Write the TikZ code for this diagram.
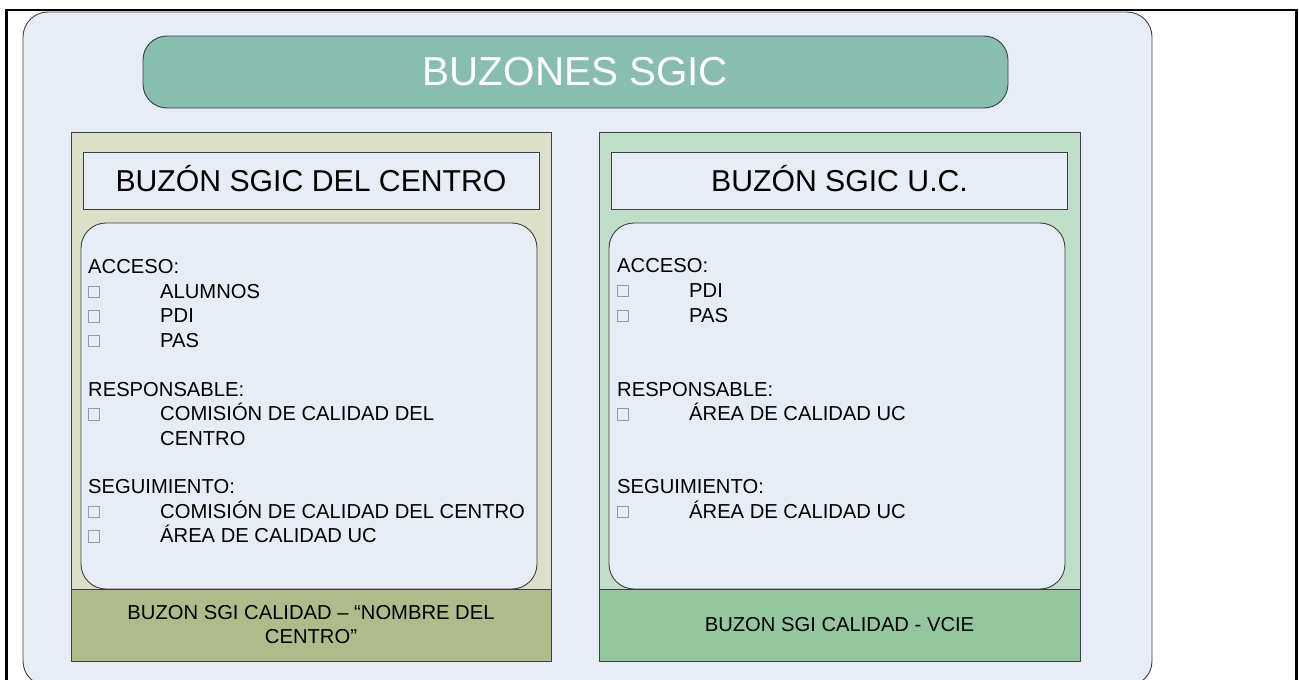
\documentclass[tikz,border=0pt]{standalone}
\usepackage{fontspec}
\setmainfont{Liberation Sans}

\definecolor{bgblue}{HTML}{E6EDF7}
\definecolor{titlegreen}{HTML}{88BDAF}
\definecolor{olivelight}{HTML}{DCE0C8}
\definecolor{olivedark}{HTML}{AFBB8B}
\definecolor{mintlight}{HTML}{C0DDC7}
\definecolor{mintdark}{HTML}{95C69F}
\definecolor{bxgray}{HTML}{9A9A9A}

% grey square in front of each entry
\newcommand\bx{\textcolor{bxgray}{\raisebox{1pt}{\setlength\fboxrule{0.9pt}\setlength\fboxsep{0pt}\fbox{\rule{0pt}{10.5pt}\rule{9.5pt}{0pt}}}}}
\newcommand\itm[1]{\makebox[72pt][l]{\bx}#1}

\begin{document}
\begin{tikzpicture}[x=1pt,y=-1pt,
    edge/.style={draw=black!75,line width=0.9pt},
    titlebox/.style={edge,fill=titlegreen,rounded corners=24pt,minimum width=865pt,minimum height=72pt,
        text=white,font=\fontsize{40.4}{48}\selectfont},
    headbox/.style={edge,fill=bgblue,minimum width=456pt,minimum height=57pt,inner sep=0pt,
        text height=21.5pt,text depth=0pt,font=\fontsize{30.2}{36}\selectfont},
    footbox/.style={edge,minimum width=480pt,minimum height=72pt,align=center,
        font=\fontsize{20.2}{24}\selectfont},
    listtxt/.style={anchor=base west,inner sep=0pt,font=\fontsize{20.2}{24}\selectfont}]
\useasboundingbox (0,0) rectangle (1299,680);

% frame and background
\draw[line width=2.5pt] (6.5,700) -- (6.5,10) -- (1296.5,10) -- (1296.5,700);
\draw[edge,fill=bgblue,rounded corners=25pt] (23,12) rectangle (1152,686);

\node[titlebox] (tit) at (575.5,72) {BUZONES SGIC};

% left panel
\draw[edge,fill=olivelight] (71,132) rectangle (551,661);
\node[headbox] (hdc) at (311,180.5) {BUZÓN SGIC DEL CENTRO};
\draw[edge,fill=bgblue,rounded corners=25pt] (81,223) rectangle (537,589);
\node[footbox,fill=olivedark] (ftc) at (311,625) {BUZON SGI CALIDAD – “NOMBRE DEL\\CENTRO”};

\foreach \yy/\txt [count=\n] in {273/{ACCESO:}, 298/{\itm{ALUMNOS}}, 322.5/{\itm{PDI}}, 347/{\itm{PAS}},
    396/{RESPONSABLE:}, 420.5/{\itm{COMISIÓN DE CALIDAD DEL}}, 445/{\hspace*{72pt}CENTRO},
    493.5/{SEGUIMIENTO:}, 518/{\itm{COMISIÓN DE CALIDAD DEL CENTRO}}, 542.5/{\itm{ÁREA DE CALIDAD UC}}}
    \node[listtxt] (lc\n) at (88,\yy) {\txt};

% right panel
\draw[edge,fill=mintlight] (599,132) rectangle (1080,661);
\node[headbox] (hdu) at (839.5,180.5) {BUZÓN SGIC U.C.};
\draw[edge,fill=bgblue,rounded corners=25pt] (609,223) rectangle (1065,589);
\node[footbox,fill=mintdark,minimum width=481pt] (ftu) at (839.5,625) {BUZON SGI CALIDAD - VCIE};

\foreach \yy/\txt [count=\n] in {272.5/{ACCESO:}, 297/{\itm{PDI}}, 322/{\itm{PAS}},
    396/{RESPONSABLE:}, 420.5/{\itm{ÁREA DE CALIDAD UC}},
    493.5/{SEGUIMIENTO:}, 518/{\itm{ÁREA DE CALIDAD UC}}}
    \node[listtxt] (lu\n) at (617,\yy) {\txt};
\end{tikzpicture}
\end{document}
